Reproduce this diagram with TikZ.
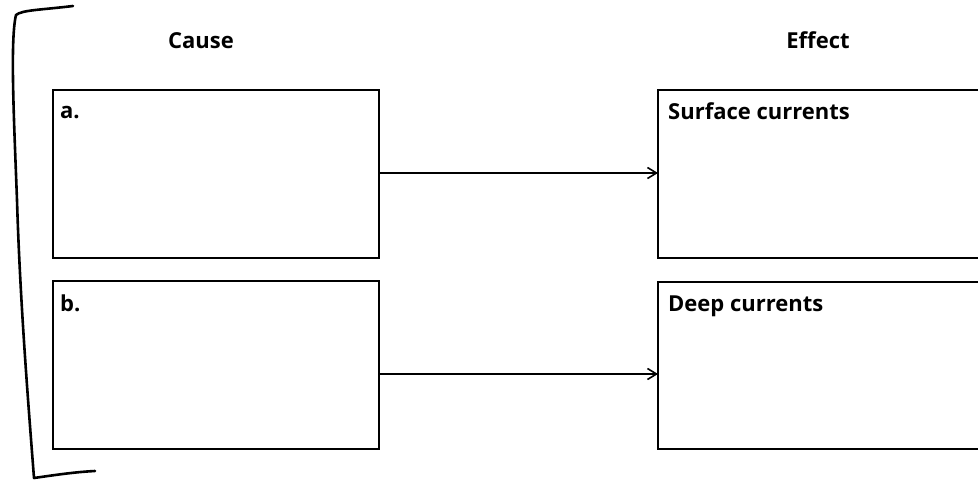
\documentclass[tikz,border=0pt]{standalone}
\usepackage{fontspec}
\setmainfont{Open Sans}
\usetikzlibrary{arrows.meta}
\begin{document}
\begin{tikzpicture}[x=1pt,y=-1pt,
  box/.style={draw,line width=1.6pt},
  lbl/.style={font=\fontsize{22}{26}\selectfont\bfseries,inner sep=0pt,anchor=base west},
  head/.style={font=\fontsize{22}{26}\selectfont\bfseries,inner sep=0pt,anchor=base},
  conn/.style={line width=1.2pt,-{Straight Barb[length=9pt,width=11pt,line width=1.6pt]}}]
\useasboundingbox (0,0) rectangle (978,484);
\draw[box] (53,90) rectangle (379,258);
\coordinate (aE) at (379,173);
\draw[box] (53,281) rectangle (379,449);
\coordinate (bE) at (379,374);
\draw[box] (990,90) -- (658,90) -- (658,258) -- (990,258);
\draw[box] (990,282) -- (658,282) -- (658,449) -- (990,449);
\coordinate (cW) at (658,173);
\coordinate (dW) at (658,374);
\draw[conn] (aE) -- (cW);
\draw[conn] (bE) -- (dW);
\node[head] (cause) at (201,49) {Cause};
\node[head] (effect) at (818,49) {Effect};
\node[lbl] (a) at (60,119) {a.};
\node[lbl] (b) at (60,311) {b.};
\node[lbl] (sc) at (668,120) {Surface currents};
\node[lbl] (dc) at (668,311) {Deep currents};
\draw[line width=2.6pt,line cap=round,line join=round]
  (73,6) .. controls (40,10) and (22,10) .. (16,15)
  .. controls (10,40) and (14,120) .. (17,200)
  .. controls (20,300) and (28,400) .. (34,478)
  .. controls (55,475) and (75,472) .. (95,471);
\end{tikzpicture}
\end{document}
